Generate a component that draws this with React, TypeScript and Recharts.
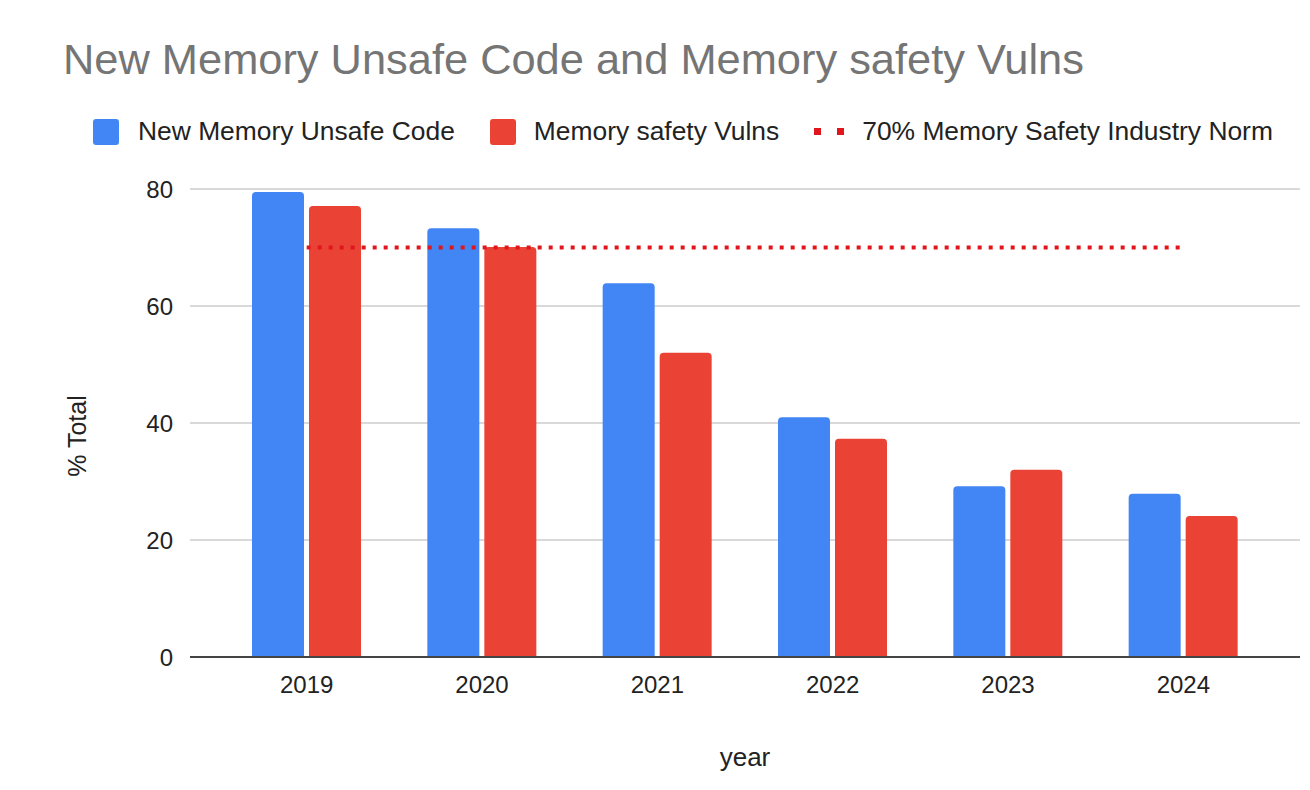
import { ComposedChart, Bar, Line, XAxis, YAxis, CartesianGrid, Legend } from 'recharts';

const years = ['2019', '2020', '2021', '2022', '2023', '2024'];
const unsafeCode = [79.5, 73.3, 63.9, 41.0, 29.2, 27.9];
const vulns = [77.1, 70.1, 52.0, 37.3, 32.0, 24.1];
const norm = [70, 70, 70, 70, 70, 70];
const yTicks = [0, 20, 40, 60, 80];

const BLUE = '#4285F4';
const RED = '#EA4335';
const DOT = '#E0161C';
const FONT = '"Liberation Sans", Arial, sans-serif';

const data = years.map((y, i) => ({ year: y, code: unsafeCode[i], vulns: vulns[i], norm: norm[i] }));

function LegendBox() {
  const item = { display: 'flex', alignItems: 'center', marginRight: 35 } as const;
  const txt = { fontSize: 26.4, color: '#222', fontFamily: FONT, whiteSpace: 'nowrap' } as const;
  return (
    <div style={{ display: 'flex', alignItems: 'center', paddingLeft: 93 }}>
      <div style={item}>
        <span style={{ width: 26, height: 26, background: BLUE, borderRadius: 3, marginRight: 19 }} />
        <span style={txt}>New Memory Unsafe Code</span>
      </div>
      <div style={item}>
        <span style={{ width: 26, height: 26, background: RED, borderRadius: 3, marginRight: 18 }} />
        <span style={txt}>Memory safety Vulns</span>
      </div>
      <div style={item}>
        <svg width={32} height={10} style={{ marginRight: 16 }}>
          <rect x={0} y={1} width={7} height={7} fill={DOT} />
          <rect x={23} y={1} width={7} height={7} fill={DOT} />
        </svg>
        <span style={txt}>70% Memory Safety Industry Norm</span>
      </div>
    </div>
  );
}

export default function App() {
  return (
    <div style={{ position: 'absolute', left: 0, top: 0, width: 1310, height: 790, background: '#fff', fontFamily: FONT }}>
      <div style={{ position: 'absolute', left: 63, top: 35, fontSize: 43.4, color: '#757575', fontFamily: FONT, whiteSpace: 'nowrap' }}>
        New Memory Unsafe Code and Memory safety Vulns
      </div>
      <ComposedChart
        width={1310}
        height={790}
        data={data}
        margin={{ top: 189, right: 10, bottom: 0, left: 0 }}
        barCategoryGap={33}
        barGap={5}
      >
        <CartesianGrid vertical={false} stroke="#cccccc" strokeWidth={1.5} />
        <XAxis
          dataKey="year"
          height={133}
          padding={{ left: 29, right: 29 }}
          tickLine={false}
          tickMargin={13}
          axisLine={{ stroke: '#444', strokeWidth: 2 }}
          tick={{ fill: '#222', fontSize: 24, fontFamily: FONT }}
          label={{ value: 'year', position: 'insideBottom', offset: 24, fill: '#222', fontSize: 26, fontFamily: FONT }}
        />
        <YAxis
          width={190}
          domain={[0, 80]}
          ticks={yTicks}
          axisLine={false}
          tickLine={false}
          tickSize={0}
          tickMargin={17}
          tick={{ fill: '#222', fontSize: 24, fontFamily: FONT }}
          label={{ value: '% Total', angle: -90, position: 'center', dx: -18, dy: 13, fill: '#222', fontSize: 25, fontFamily: FONT }}
        />
        <Legend
          layout="horizontal"
          verticalAlign="middle"
          wrapperStyle={{ top: 116, left: 0, width: 1310 }}
          content={() => <LegendBox />}
        />
        <Bar dataKey="code" name="New Memory Unsafe Code" fill={BLUE} barSize={52} radius={[4, 4, 0, 0]} isAnimationActive={false} />
        <Bar dataKey="vulns" name="Memory safety Vulns" fill={RED} barSize={52} radius={[4, 4, 0, 0]} isAnimationActive={false} />
        <Line
          dataKey="norm"
          name="70% Memory Safety Industry Norm"
          stroke={DOT}
          strokeWidth={4}
          strokeDasharray="4 7"
          dot={false}
          activeDot={false}
          isAnimationActive={false}
        />
      </ComposedChart>
    </div>
  );
}
